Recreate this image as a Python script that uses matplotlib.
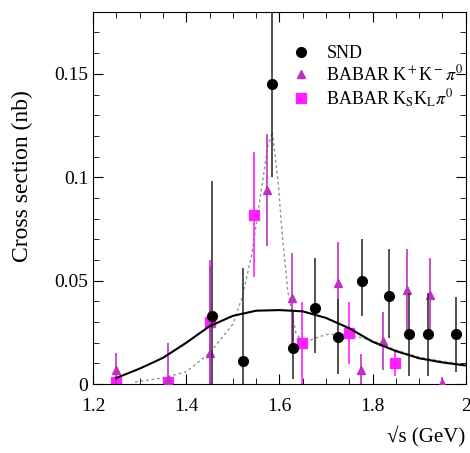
import numpy as np
import matplotlib
matplotlib.use("Agg")
import matplotlib.pyplot as plt
from matplotlib.lines import Line2D

plt.rcParams['font.family'] = ['Liberation Serif', 'DejaVu Serif']
plt.rcParams['mathtext.fontset'] = 'stix'

# SND points
snd_x = [1.455, 1.522, 1.584, 1.629, 1.676, 1.726, 1.777, 1.835, 1.878, 1.919, 1.979]
snd_y = [0.033, 0.011, 0.145, 0.0175, 0.037, 0.023, 0.050, 0.0425, 0.024, 0.024, 0.024]
snd_lo = [0.033, 0.011, 0.045, 0.015, 0.022, 0.018, 0.017, 0.020, 0.020, 0.020, 0.018]
snd_hi = [0.065, 0.045, 0.045, 0.018, 0.024, 0.018, 0.020, 0.023, 0.020, 0.020, 0.018]

# BABAR K+K-pi0
kk_x = [1.25, 1.36, 1.45, 1.573, 1.627, 1.726, 1.775, 1.822, 1.874, 1.923, 1.948]
kk_y = [0.007, 0.002, 0.015, 0.094, 0.0415, 0.0488, 0.0068, 0.021, 0.0454, 0.043, 0.0005]
kk_err = [0.008, 0.018, 0.042, 0.027, 0.022, 0.020, 0.008, 0.014, 0.020, 0.018, 0.003]

# BABAR KsKl pi0
ks_x = [1.25, 1.36, 1.45, 1.545, 1.649, 1.749, 1.848]
ks_y = [0.001, 0.001, 0.030, 0.082, 0.0198, 0.0246, 0.010]
ks_err = [0.003, 0.003, 0.030, 0.030, 0.020, 0.015, 0.006]

# solid fit curve
fit_x = [1.25, 1.30, 1.35, 1.40, 1.45, 1.50, 1.55, 1.60, 1.65, 1.70, 1.75, 1.80, 1.85, 1.90, 1.95, 2.00]
fit_y = [0.003, 0.0075, 0.0127, 0.020, 0.028, 0.033, 0.0355, 0.0358, 0.0352, 0.032, 0.027, 0.0205, 0.016, 0.0125, 0.0105, 0.009]

# dotted curve
dot_x = [1.29, 1.35, 1.40, 1.45, 1.50, 1.52, 1.54, 1.56, 1.575, 1.585, 1.597, 1.607, 1.618, 1.635,
         1.65, 1.70, 1.75, 1.80, 1.85, 1.90, 1.95, 2.00]
dot_y = [0.001, 0.003, 0.006, 0.015, 0.029, 0.042, 0.062, 0.092, 0.115, 0.122, 0.098, 0.070, 0.045, 0.025,
         0.020, 0.024, 0.024, 0.021, 0.0165, 0.013, 0.011, 0.0095]

fig = plt.figure(figsize=(4.7, 4.53), dpi=100)
ax = fig.add_axes([0.198, 0.152, 0.793, 0.822])

mag2 = '#c030c0'
mag = '#ff20ff'

ax.plot(dot_x, dot_y, color='#8a9a8a', lw=1.0, ls=(0, (2, 2)), zorder=1)

ax.errorbar(ks_x, ks_y, yerr=ks_err, fmt='s', color=mag, ms=7, elinewidth=1.2,
            capsize=0, zorder=2)
ax.errorbar(kk_x, kk_y, yerr=kk_err, fmt='^', color=mag2, ms=6, elinewidth=1.2,
            capsize=0, zorder=3)
ax.errorbar(snd_x, snd_y, yerr=[snd_lo, snd_hi], fmt='o', color='black', ms=7,
            ecolor='#333333', elinewidth=1.2, capsize=0, zorder=4)

ax.plot(fit_x, fit_y, color='black', lw=1.5, zorder=5)

ax.set_xlim(1.2, 2.0)
ax.set_ylim(0, 0.18)
ax.set_xticks([1.2, 1.4, 1.6, 1.8, 2.0])
ax.set_xticklabels(['1.2', '1.4', '1.6', '1.8', '2'])
ax.set_yticks([0, 0.05, 0.1, 0.15])
ax.set_yticklabels(['0', '0.05', '0.1', '0.15'])
ax.set_xticks(np.arange(1.2, 2.001, 0.05), minor=True)
ax.set_yticks(np.arange(0, 0.181, 0.01), minor=True)
ax.tick_params(which='both', direction='in', top=True, right=True, labelsize=14)
ax.tick_params(which='major', length=7)
ax.tick_params(which='minor', length=4)
ax.tick_params(axis='x', pad=10)

ax.set_ylabel('Cross section (nb)', fontsize=17)
ax.yaxis.set_label_coords(-0.16, 0.56)
fig.text(0.99, 0.015, '\u221as (GeV)', fontsize=15, ha='right', va='bottom')

handles = [
    Line2D([], [], marker='o', color='black', ls='none', ms=7),
    Line2D([], [], marker='^', color=mag2, ls='none', ms=6),
    Line2D([], [], marker='s', color=mag, ls='none', ms=7),
]
labels = ['SND', r'BABAR K$^+$K$^-\pi^0$', r'BABAR K$_\mathrm{S}$K$_\mathrm{L}\pi^0$']
ax.legend(handles, labels, loc='upper left', bbox_to_anchor=(0.50, 0.945), frameon=False,
          fontsize=13, handlelength=1.0, handletextpad=0.9, labelspacing=0.15, borderpad=0.2)

fig.savefig('out.png', dpi=100)
